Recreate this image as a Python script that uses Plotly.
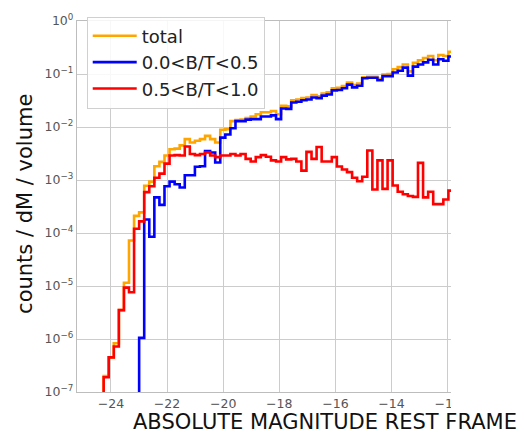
import plotly.graph_objects as go

# Histogram binning in absolute magnitude
bin_start = -24.26
bin_width = 0.1807

# counts / dM / volume per bin (None = empty bin)
total = [
    2.0e-7, 4.5e-7, 8.3e-7, 3.5e-6, 1.15e-5, 7.2e-5, 2.1e-4, 2.45e-4, 7.8e-4, 9.3e-4,
    1.82e-3, 2.2e-3, 2.9e-3, 3.8e-3, 3.9e-3, 4.5e-3, 5.9e-3, 5.1e-3, 5.5e-3, 5.9e-3,
    6.8e-3, 5.9e-3, 5.1e-3, 8.9e-3, 9.1e-3, 1.29e-2, 1.35e-2, 1.38e-2, 1.48e-2, 1.58e-2,
    1.74e-2, 1.9e-2, 1.9e-2, 2.0e-2, 1.74e-2, 2.5e-2, 2.45e-2, 3.2e-2, 3.3e-2, 3.5e-2,
    3.6e-2, 4.0e-2, 3.8e-2, 4.3e-2, 4.5e-2, 5.4e-2, 5.5e-2, 5.9e-2, 6.9e-2, 6.2e-2,
    6.6e-2, 8.7e-2, 8.9e-2, 8.9e-2, 8.1e-2, 9.8e-2, 0.100, 0.123, 0.135, 0.151,
    0.112, 0.162, 0.182, 0.200, 0.219, 0.182, 0.229, 0.219, 0.263,
]

bt_low = [
    None, None, None, None, None, None, None, 1.05e-6, 1.8e-4, 8.5e-5,
    4.7e-4, 3.4e-4, 7.6e-4, 9.3e-4, 8.3e-4, 7.2e-4, 1.23e-3, 1.23e-3, 1.78e-3, 1.82e-3,
    3.5e-3, 3.3e-3, 2.14e-3, 6.3e-3, 7.2e-3, 9.5e-3, 1.29e-2, 1.29e-2, 1.38e-2, 1.41e-2,
    1.41e-2, 1.58e-2, 1.58e-2, 1.66e-2, 1.41e-2, 2.24e-2, 2.2e-2, 2.9e-2, 3.0e-2, 3.2e-2,
    3.3e-2, 3.6e-2, 3.5e-2, 3.9e-2, 4.1e-2, 4.9e-2, 5.0e-2, 5.4e-2, 6.3e-2, 5.6e-2,
    6.0e-2, 8.3e-2, 8.5e-2, 8.5e-2, 7.6e-2, 9.1e-2, 9.1e-2, 0.107, 0.115, 0.132,
    0.093, 0.138, 0.151, 0.166, 0.186, 0.151, 0.190, 0.178, 0.214,
]

bt_high = [
    1.9e-7, 4.5e-7, 7.2e-7, 3.5e-6, 9.3e-6, 7.6e-6, 1.2e-4, 1.66e-4, 5.9e-4, 7.6e-4,
    1.1e-3, 1.32e-3, 2.04e-3, 2.9e-3, 2.95e-3, 2.9e-3, 4.3e-3, 3.1e-3, 2.95e-3, 3.1e-3,
    3.3e-3, 2.9e-3, 2.7e-3, 2.9e-3, 2.9e-3, 3.1e-3, 2.9e-3, 3.1e-3, 2.5e-3, 2.24e-3,
    2.7e-3, 2.95e-3, 2.75e-3, 2.35e-3, 2.24e-3, 2.7e-3, 2.45e-3, 2.5e-3, 2.24e-3, 1.5e-3,
    3.4e-3, 2.5e-3, 4.2e-3, 2.24e-3, 2.24e-3, 2.7e-3, 1.8e-3, 1.58e-3, 1.41e-3, 1.1e-3,
    9.5e-4, 1.15e-3, 3.6e-3, 6.6e-4, 2.35e-3, 6.8e-4, 2.35e-3, 7.9e-4, 6.0e-4, 5.4e-4,
    5.0e-4, 4.8e-4, 2.1e-3, 4.7e-4, 6.0e-4, 3.5e-4, 3.5e-4, 4.3e-4, 6.3e-4,
]

series = [
    ("total", total, "#FFA500"),
    ("0.0&lt;B/T&lt;0.5", bt_low, "#0000FF"),
    ("0.5&lt;B/T&lt;1.0", bt_high, "#FF0000"),
]

x_ticks = [-24, -22, -20, -18, -16, -14, -12]
y_ticks = [1e-7, 1e-6, 1e-5, 1e-4, 1e-3, 1e-2, 1e-1, 1e0]
y_ticktext = ["10<sup>−7</sup>", "10<sup>−6</sup>", "10<sup>−5</sup>", "10<sup>−4</sup>",
              "10<sup>−3</sup>", "10<sup>−2</sup>", "10<sup>−1</sup>", "10<sup>0</sup>"]


def step_outline(values):
    """Histogram outline: rise from the floor at the first filled bin, then step across."""
    first = next(i for i, v in enumerate(values) if v is not None)
    xs = [bin_start + first * bin_width]
    ys = [1e-12]
    for i in range(first, len(values)):
        xs.append(bin_start + i * bin_width)
        ys.append(values[i])
    xs.append(bin_start + len(values) * bin_width)
    ys.append(values[-1])
    return xs, ys


fig = go.Figure()
for name, vals, color in series:
    xs, ys = step_outline(vals)
    fig.add_trace(go.Scatter(
        x=xs, y=ys, mode="lines", name=name, legendgroup=name,
        line=dict(color=color, width=2.6, shape="hv"),
    ))

grid = "#cccccc"
fig.update_layout(
    width=524, height=433,
    margin=dict(l=77, r=73, t=13, b=41),
    paper_bgcolor="white", plot_bgcolor="white",
    font=dict(family="DejaVu Sans", color="#555555"),
    showlegend=True,
    legend=dict(
        x=0.026, y=1.012, xanchor="left", yanchor="top",
        bgcolor="rgba(255,255,255,0.85)", bordercolor="#d0d0d0", borderwidth=1,
        font=dict(size=18, color="#222222"),
        itemwidth=44, tracegroupgap=0, traceorder="grouped",
    ),
    xaxis=dict(
        range=[-25.21, -11.88], tickvals=x_ticks,
        ticktext=["−24", "−22", "−20", "−18", "−16", "−14", "−12"],
        showgrid=True, gridcolor=grid, gridwidth=1,
        showline=True, linecolor="#bdbdbd", linewidth=1.2, mirror=True,
        ticks="", tickfont=dict(size=12.5, color="#555555"), zeroline=False,
    ),
    yaxis=dict(
        type="log", range=[-7, 0], tickvals=y_ticks, ticktext=y_ticktext,
        showgrid=True, gridcolor=grid, gridwidth=1,
        showline=True, linecolor="#bdbdbd", linewidth=1.2, mirror=False,
        ticks="", tickfont=dict(size=12.5, color="#555555"), zeroline=False,
    ),
    annotations=[
        dict(text="ABSOLUTE MAGNITUDE REST FRAME", xref="paper", yref="paper",
             x=0.663, y=-0.082, xanchor="center", yanchor="middle", showarrow=False,
             font=dict(size=21, color="#111111")),
        dict(text="counts / dM / volume", xref="paper", yref="paper",
             x=-0.139, y=0.507, xanchor="center", yanchor="middle", showarrow=False,
             textangle=-90, font=dict(size=21, color="#111111")),
    ],
    shapes=[
        # page edge: nothing is drawn to the right of the axes frame
        dict(type="rect", xref="paper", yref="paper", x0=1.0, x1=1.3, y0=-0.003, y1=-0.06,
             fillcolor="white", line=dict(width=0), layer="above"),
    ],
)

fig.write_html("out.html")
